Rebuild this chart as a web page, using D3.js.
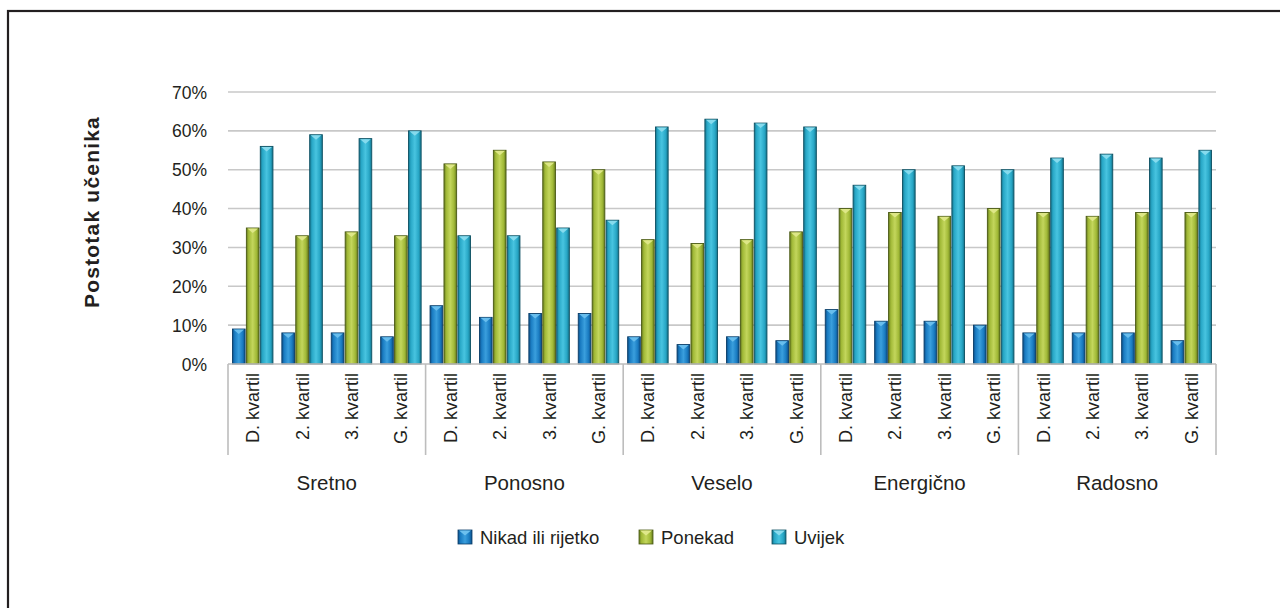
<!DOCTYPE html>
<html><head><meta charset="utf-8">
<script src="https://cdn.jsdelivr.net/npm/d3@7"></script>
<style>html,body{margin:0;padding:0;background:#fff;}svg{display:block;font-family:"Liberation Sans",Arial,Helvetica,sans-serif;}</style>
</head><body>
<svg id="chart" width="1280" height="608"></svg>
<script>
const groups = ["Sretno", "Ponosno", "Veselo", "Energično", "Radosno"];
const quartiles = ["D. kvartil", "2. kvartil", "3. kvartil", "G. kvartil"];
const seriesNames = ["Nikad ili rijetko", "Ponekad", "Uvijek"];
const nikad   = [9, 8, 8, 7,   15, 12, 13, 13,   7, 5, 7, 6,   14, 11, 11, 10,   8, 8, 8, 6];
const ponekad = [35, 33, 34, 33,   51.5, 55, 52, 50,   32, 31, 32, 34,   40, 39, 38, 40,   39, 38, 39, 39];
const uvijek  = [56, 59, 58, 60,   33, 33, 35, 37,   61, 63, 62, 61,   46, 50, 51, 50,   53, 54, 53, 55];
const yTicks = [0, 10, 20, 30, 40, 50, 60, 70];
const yTitle = "Postotak učenika";

const seriesData = [nikad, ponekad, uvijek];
const palette = [
  {dark:"#0c4f88", mid:"#1a7cc2", light:"#3a9fdd", stroke:"#0a3d68", cap:"#6cc0ee"},
  {dark:"#657a1f", mid:"#a1b937", light:"#c3d65c", stroke:"#4a5914", cap:"#dfe88a"},
  {dark:"#14728a", mid:"#28a7c6", light:"#48c4e0", stroke:"#0d5062", cap:"#8adcee"}
];

const svg = d3.select("#chart");
const defs = svg.append("defs");
palette.forEach((p,i)=>{
  const g = defs.append("linearGradient").attr("id","grad"+i).attr("x1","0%").attr("x2","100%").attr("y1","0%").attr("y2","0%");
  [[0,p.dark],[0.18,p.mid],[0.5,p.light],[0.8,p.mid],[1,p.dark]].forEach(s=>g.append("stop").attr("offset",s[0]).attr("stop-color",s[1]));
});

// outer frame
svg.append("rect").attr("x",8).attr("y",11).attr("width",1400).attr("height",800)
  .attr("fill","none").attr("stroke","#231f20").attr("stroke-width",2.2);

const pLeft = 228, pRight = 1216, pTop = 92, pBottom = 364;
const y = d3.scaleLinear().domain([0,70]).range([pBottom, pTop]);
const cats = d3.range(groups.length*quartiles.length);
const x = d3.scaleBand().domain(cats).range([pLeft,pRight]).padding(0);
const xs = d3.scaleBand().domain(d3.range(3)).range([0,x.bandwidth()]).paddingInner(0.09).paddingOuter(0.32);

// gridlines
svg.append("g").selectAll("line").data(yTicks.filter(d=>d>0)).join("line")
  .attr("x1",pLeft).attr("x2",pRight).attr("y1",d=>y(d)).attr("y2",d=>y(d))
  .attr("stroke","#c8c8c8").attr("stroke-width",1.6);

// y axis labels
const yAxis = d3.axisLeft(y).tickValues(yTicks).tickFormat(d=>d+"%").tickSize(0).tickPadding(0);
const ya = svg.append("g").attr("transform",`translate(207,0)`).call(yAxis);
ya.select(".domain").remove();
ya.selectAll("text").attr("font-size",17.5).attr("fill","#231f20").attr("font-family","'Liberation Sans',Arial,sans-serif").attr("dy","0.35em");

// y title
svg.append("text").attr("transform","translate(99,212) rotate(-90)").attr("text-anchor","middle")
  .attr("font-size",21).attr("font-weight","bold").attr("letter-spacing",1.2).attr("fill","#231f20").text(yTitle);

// bars
seriesData.forEach((vals,si)=>{
  const p = palette[si];
  const g = svg.append("g");
  const bw = xs.bandwidth();
  const bars = g.selectAll("g").data(vals).join("g")
    .attr("transform",(d,i)=>`translate(${x(i)+xs(si)},0)`);
  bars.append("rect").attr("x",0).attr("y",d=>y(d)).attr("width",bw).attr("height",d=>pBottom-y(d))
    .attr("fill",`url(#grad${si})`).attr("stroke",p.stroke).attr("stroke-width",0.9);
  bars.append("path").attr("d",d=>{const t=y(d)+0.5;return `M1,${t} L${bw-1},${t} L${bw/2},${t+4.5} Z`;})
    .attr("fill",p.cap).attr("opacity",0.95);
});

// x axis box
const axisCol = "#bdbdbd";
svg.append("line").attr("x1",pLeft).attr("x2",pRight).attr("y1",pBottom).attr("y2",pBottom).attr("stroke",axisCol).attr("stroke-width",1.6);
const gBounds = d3.range(groups.length+1).map(i=> i<groups.length ? x(i*4) : pRight);
svg.append("g").selectAll("line").data(gBounds).join("line")
  .attr("x1",d=>d).attr("x2",d=>d).attr("y1",pBottom).attr("y2",455).attr("stroke",axisCol).attr("stroke-width",1.6);

// quartile labels
svg.append("g").selectAll("text").data(cats).join("text")
  .attr("transform",i=>`translate(${x(i)+x.bandwidth()/2+6.5},373) rotate(-90)`)
  .attr("text-anchor","end").attr("font-size",18).attr("fill","#231f20")
  .text(i=>quartiles[i%4]);

// group labels
svg.append("g").selectAll("text").data(groups).join("text")
  .attr("x",(d,i)=>(gBounds[i]+gBounds[i+1])/2).attr("y",490).attr("text-anchor","middle")
  .attr("font-size",20.5).attr("fill","#231f20").text(d=>d);

// legend
const legX = [458, 639, 772];
const lg = svg.append("g").selectAll("g").data(seriesNames).join("g")
  .attr("transform",(d,i)=>`translate(${legX[i]},530)`);
lg.append("rect").attr("width",14).attr("height",14).attr("fill",(d,i)=>`url(#grad${i})`).attr("stroke",(d,i)=>palette[i].stroke).attr("stroke-width",0.8);
lg.append("path").attr("d","M1,0.5 L13,0.5 L7,5.5 Z").attr("fill",(d,i)=>palette[i].cap);
lg.append("text").attr("x",22).attr("y",14).attr("font-size",18.5).attr("fill","#231f20").text(d=>d);
</script>
</body></html>
